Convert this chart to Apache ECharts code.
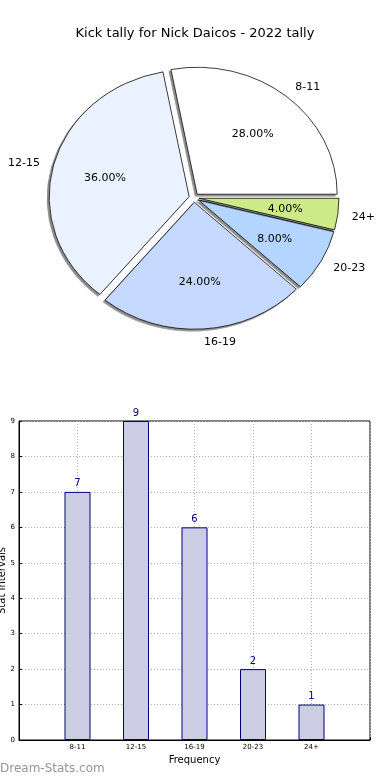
<!DOCTYPE html>
<html>
<head>
<meta charset="utf-8">
<script src="https://cdn.jsdelivr.net/npm/echarts@6/dist/echarts.min.js"></script>
<style>
html,body{margin:0;padding:0;background:#fff;}
#main{position:absolute;left:0;top:0;width:390px;height:780px;}
#pie{position:absolute;left:0;top:0;width:390px;height:420px;transform:scaleY(0.907);transform-origin:0 0;pointer-events:none;}
</style>
</head>
<body>
<div id="main"></div>
<div id="pie"></div>
<script>
var title = 'Kick tally for Nick Daicos - 2022 tally';
var categories = ['8-11', '12-15', '16-19', '20-23', '24+'];
var counts = [7, 9, 6, 2, 1];
var sliceColors = ['#ffffff', '#eaf1ff', '#c5d9ff', '#b4d5ff', '#cdea88'];
var yTicks = [0, 1, 2, 3, 4, 5, 6, 7, 8, 9];
var FONT = 'DejaVu Sans';

var main = echarts.init(document.getElementById('main'));
main.setOption({
  animation: false,
  title: {
    text: title, left: 'center', top: 22,
    textStyle: {fontFamily: FONT, fontSize: 13, fontWeight: 'normal', color: '#000'}
  },
  graphic: [{
    type: 'text', left: 0, top: 763,
    style: {text: 'Dream-Stats.com', fill: '#959595', font: '12px "DejaVu Sans"'}
  }],
  grid: {left: 19, right: 20, top: 421, bottom: 40, containLabel: false, outerBoundsMode: 'none',
    show: true, borderColor: '#000', borderWidth: 1, backgroundColor: 'transparent'},
  xAxis: {
    type: 'value', min: -1, max: 5, interval: 1,
    name: 'Frequency', nameLocation: 'middle', nameGap: 15, nameMoveOverlap: false,
    nameTextStyle: {fontFamily: FONT, fontSize: 10, color: '#000'},
    axisLine: {show: true, onZero: false, lineStyle: {color: '#000'}},
    axisTick: {show: true, inside: true, length: 3, lineStyle: {color: '#000'}},
    axisLabel: {
      fontFamily: FONT, fontSize: 7, color: '#000', margin: 4,
      formatter: function (v) { return categories[v] !== undefined ? categories[v] : ''; }
    },
    splitLine: {show: true, lineStyle: {color: '#b0b0b0', type: [1, 2], width: 1}}
  },
  yAxis: {
    type: 'value', min: yTicks[0], max: yTicks[yTicks.length - 1], interval: 1,
    name: 'Stat Intervals', nameLocation: 'middle', nameGap: 12, nameRotate: 90, nameMoveOverlap: false,
    nameTextStyle: {fontFamily: FONT, fontSize: 10, color: '#000'},
    axisLine: {show: true, onZero: false, lineStyle: {color: '#000'}},
    axisTick: {show: true, inside: true, length: 3, lineStyle: {color: '#000'}},
    axisLabel: {fontFamily: FONT, fontSize: 7, color: '#000', margin: 4},
    splitLine: {show: true, lineStyle: {color: '#b0b0b0', type: [1, 2], width: 1}}
  },
  series: [{
    type: 'bar',
    data: counts.map(function (v, i) { return [i, v]; }),
    barWidth: 26,
    itemStyle: {color: '#cccce4', borderColor: '#000080', borderWidth: 1},
    label: {show: true, position: 'top', distance: 3, fontFamily: FONT, fontSize: 10, color: '#000080',
      formatter: function (p) { return p.value[1]; }},
    z: 3
  }]
});

var pie = echarts.init(document.getElementById('pie'), null, {renderer: 'svg'});
var R = 140;
var pieCenter = [194, 218];
function sliceData(withStyle) {
  return categories.map(function (c, i) {
    var d = {name: c, value: counts[i], selected: true};
    if (withStyle) d.itemStyle = {color: sliceColors[i]};
    return d;
  });
}
pie.setOption({
  animation: false,
  series: [{
    type: 'pie', center: pieCenter, radius: [0, R],
    startAngle: 0, clockwise: false,
    selectedMode: 'multiple', selectedOffset: 5,
    avoidLabelOverlap: false,
    itemStyle: {borderColor: '#000', borderWidth: 0.8, shadowColor: 'rgba(0,0,0,0.45)', shadowBlur: 0, shadowOffsetX: -2, shadowOffsetY: 2},
    label: {show: true, position: 'outside', fontFamily: FONT, fontSize: 11, color: '#000', distanceToLabelLine: 0},
    labelLine: {show: false, length: 14, length2: 0},
    emphasis: {disabled: true},
    data: sliceData(true)
  }, {
    type: 'pie', center: pieCenter, radius: [R * 0.2, R],
    startAngle: 0, clockwise: false,
    selectedMode: 'multiple', selectedOffset: 5,
    avoidLabelOverlap: false, silent: true,
    itemStyle: {color: 'rgba(0,0,0,0)', borderWidth: 0},
    label: {show: true, position: 'inside', fontFamily: FONT, fontSize: 11, color: '#000',
      formatter: function (p) { return p.percent.toFixed(2) + '%'; }},
    labelLine: {show: false},
    emphasis: {disabled: true},
    data: sliceData(false)
  }]
});
</script>
</body>
</html>
